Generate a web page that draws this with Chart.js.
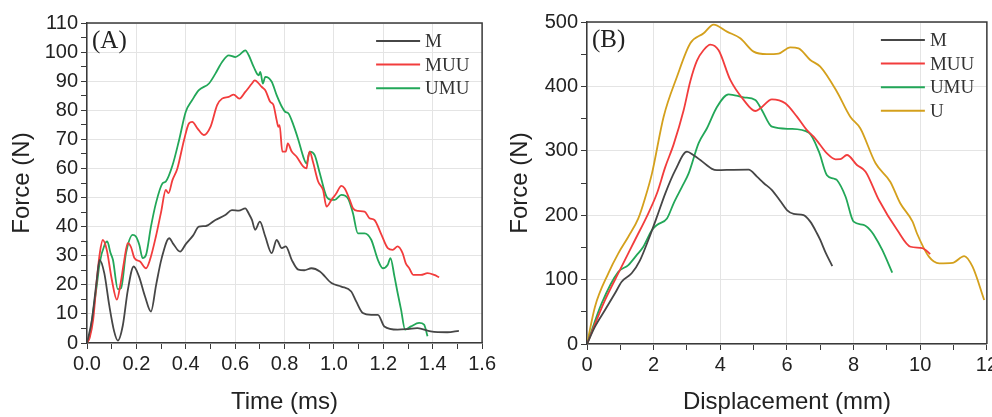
<!DOCTYPE html>
<html>
<head>
<meta charset="utf-8">
<script src="https://cdn.jsdelivr.net/npm/chart.js@4.4.1/dist/chart.umd.min.js"></script>
<style>
  html, body { margin: 0; padding: 0; background: #fff; overflow: hidden; }
  #wrap { position: relative; width: 992px; height: 417px; overflow: hidden; }
  canvas { position: absolute; top: 0; }
  #chartA { left: 0; }
  #chartB { left: 500px; }
</style>
</head>
<body>
<div id="wrap">
  <canvas id="chartA" width="499" height="417"></canvas>
  <canvas id="chartB" width="501" height="417"></canvas>
</div>
<script>
// === PANEL A DATA (time in ms, force in N) ===
const timeM_A = [0, 0.02, 0.04, 0.051, 0.07, 0.09, 0.11, 0.125, 0.145, 0.165, 0.189, 0.21, 0.235, 0.259, 0.28, 0.302, 0.333, 0.35, 0.377, 0.40, 0.43, 0.453, 0.48, 0.52, 0.56, 0.587, 0.615, 0.641, 0.655, 0.668, 0.681, 0.70, 0.722, 0.748, 0.768, 0.789, 0.805, 0.829, 0.856, 0.88, 0.909, 0.943, 0.99, 1.03, 1.07, 1.09, 1.117, 1.151, 1.178, 1.204, 1.258, 1.30, 1.338, 1.392, 1.459, 1.506];
const forceM_A = [0, 8, 22, 28.6, 24, 13, 4, 0.8, 6, 18, 26.3, 23, 16, 10.8, 20, 29, 36, 34, 31.4, 34, 37, 40, 40.2, 42.3, 44, 45.7, 45.5, 46.3, 44.5, 42.3, 38.9, 41.7, 36.6, 30.9, 35.4, 32.6, 33.2, 28.6, 25.2, 25.0, 25.7, 24.6, 20.6, 19.4, 17.7, 14.3, 10.3, 9.7, 9.7, 5.7, 4.6, 4.8, 5.1, 4.0, 3.7, 4.2];

const timeMUU_A = [0, 0.011, 0.025, 0.04, 0.052, 0.064, 0.08, 0.1, 0.121, 0.135, 0.15, 0.165, 0.178, 0.192, 0.215, 0.239, 0.255, 0.279, 0.3, 0.319, 0.33, 0.346, 0.366, 0.393, 0.413, 0.426, 0.447, 0.473, 0.5, 0.527, 0.547, 0.574, 0.594, 0.617, 0.641, 0.668, 0.679, 0.708, 0.722, 0.742, 0.755, 0.768, 0.775, 0.78, 0.791, 0.805, 0.813, 0.829, 0.849, 0.876, 0.889, 0.896, 0.902, 0.915, 0.936, 0.956, 0.97, 0.99, 1.01, 1.03, 1.043, 1.064, 1.077, 1.097, 1.124, 1.144, 1.164, 1.19, 1.218, 1.238, 1.258, 1.278, 1.291, 1.305, 1.322, 1.352, 1.379, 1.406, 1.426];
const forceMUU_A = [0, 1.8, 8, 22, 31, 35.4, 32, 22, 14.9, 20, 28, 34.3, 33, 29.2, 28, 25.7, 28.6, 36.6, 45, 52.6, 51.5, 56, 60, 69.8, 75.5, 76, 73.8, 71.5, 74.3, 81.8, 84, 84.6, 85.4, 84, 86.3, 89.2, 90.3, 88, 86.9, 82.9, 81.8, 76.6, 74.3, 74.9, 65.8, 65.8, 68.6, 65.8, 64, 60.6, 60, 64, 65.8, 62.3, 55.5, 52.6, 46.9, 49.2, 51.5, 54, 53.2, 49.2, 46.3, 45.4, 45.2, 42.9, 42.3, 37.7, 32.6, 32, 33.2, 30.9, 27.4, 25.7, 23.4, 23.4, 24, 23.4, 22.6];

const timeUMU_A = [0, 0.012, 0.024, 0.04, 0.051, 0.071, 0.082, 0.095, 0.105, 0.125, 0.138, 0.158, 0.185, 0.198, 0.212, 0.225, 0.239, 0.259, 0.279, 0.306, 0.319, 0.346, 0.373, 0.40, 0.426, 0.453, 0.494, 0.52, 0.547, 0.574, 0.601, 0.621, 0.641, 0.655, 0.675, 0.695, 0.702, 0.712, 0.722, 0.748, 0.768, 0.789, 0.802, 0.816, 0.836, 0.856, 0.876, 0.889, 0.902, 0.922, 0.943, 0.97, 0.99, 1.003, 1.03, 1.057, 1.077, 1.097, 1.124, 1.151, 1.178, 1.198, 1.218, 1.229, 1.245, 1.258, 1.272, 1.288, 1.312, 1.345, 1.365, 1.379];
const forceUMU_A = [0, 3, 10.3, 20, 27.4, 33.7, 34.9, 31, 28.6, 18.5, 18.9, 30.9, 37.2, 36.6, 33.7, 29.2, 30.3, 40, 48, 54.9, 55.5, 61, 69.8, 79.5, 83.5, 86.9, 89.2, 92.6, 96.6, 98.9, 98.3, 99.3, 100.6, 98.9, 94.9, 92, 93.2, 89.2, 91.5, 89.8, 85.2, 81.2, 79.5, 78.9, 74.9, 69.8, 64, 61.7, 65.8, 64.6, 58.3, 50.3, 49.2, 49.2, 50.9, 49.7, 44.6, 37.7, 37.7, 35.5, 28.6, 25.7, 26.9, 29.2, 22.9, 17.2, 11.4, 4.6, 5.7, 6.9, 6.3, 2.3];

// === PANEL B DATA (displacement in mm, force in N) ===
const dispM_B = [0, 0.24, 0.54, 0.84, 1.04, 1.34, 1.59, 1.84, 2.1, 2.35, 2.65, 3.0, 3.2, 3.4, 3.75, 3.9, 4.4, 4.85, 5.1, 5.3, 5.55, 5.8, 6.0, 6.2, 6.5, 6.7, 6.9, 7.0, 7.15, 7.36];
const forceM_B = [0, 27, 52.8, 78.7, 96.7, 109.8, 130, 161.5, 197.7, 234, 270, 298.6, 293, 285.7, 272, 270, 270.5, 270.7, 259.8, 250, 239, 222, 208, 202, 200, 190, 172, 161.5, 143, 121];

const dispMUU_B = [0, 0.54, 0.99, 1.44, 1.84, 2.1, 2.35, 2.6, 2.9, 3.1, 3.3, 3.5, 3.7, 3.95, 4.3, 4.7, 5.05, 5.2, 5.55, 5.95, 6.3, 6.6, 6.8, 7.0, 7.2, 7.46, 7.6, 7.8, 8.1, 8.36, 8.76, 9.31, 9.71, 10.06, 10.3];
const forceMUU_B = [0, 68, 115, 161.5, 203, 234, 275, 310, 363, 408, 440, 456.5, 465, 456, 410, 379, 361.8, 366, 380, 373.8, 353, 332, 322, 309, 296, 286.8, 287, 293.5, 278, 267.6, 223.6, 177, 151, 149, 139.7];

const dispUMU_B = [0, 0.44, 0.94, 1.24, 1.49, 1.69, 1.95, 2.1, 2.4, 2.6, 2.85, 3.05, 3.35, 3.6, 3.9, 4.25, 4.7, 5.05, 5.25, 5.55, 6.1, 6.66, 6.96, 7.2, 7.4, 7.5, 7.76, 8.0, 8.3, 8.5, 8.6, 8.86, 9.16];
const forceUMU_B = [0, 63, 112, 122.6, 138, 151, 177, 184.8, 195, 218.5, 244, 265, 312, 335, 368, 387.7, 383, 379, 363, 337.4, 334, 328, 298.6, 262, 257, 254.6, 228.7, 190, 185, 177, 170, 146, 110.7];

const dispU_B = [0, 0.24, 0.64, 0.94, 1.24, 1.54, 1.74, 1.95, 2.3, 2.7, 3.1, 3.5, 3.8, 4.2, 4.6, 5.0, 5.4, 5.75, 6.1, 6.35, 6.7, 7.0, 7.5, 7.9, 8.2, 8.66, 9.1, 9.4, 9.77, 9.9, 10.26, 10.57, 10.97, 11.32, 11.57, 11.92];
const forceU_B = [0, 58, 109.8, 140.8, 166.6, 195, 226, 265, 353, 415, 467, 482.5, 496, 485, 474.7, 454, 450, 451, 460.7, 459, 441, 430.6, 391.8, 353, 335, 280.6, 252, 218.5, 190, 172, 135.6, 125.3, 126, 136.6, 120, 68.3];

// series names + colours
const seriesNames = ["M", "MUU", "UMU", "U"];
const seriesColors = ["#464646", "#f23c3c", "#22a758", "#d4a01c"];

const AXIS = "#3a3a3a";
const GRID = "#e4e4e4";
const SANS = "'Liberation Sans', Arial, sans-serif";
const SERIF = "'Liberation Serif', 'Times New Roman', serif";

function pts(xs, ys) {
    return xs.map((x, i) => ({ x: x, y: ys[i] }));
}

function line(i, xs, ys) {
    return {
        label: seriesNames[i],
        data: pts(xs, ys),
        borderColor: seriesColors[i],
        borderWidth: 1.8,
        pointRadius: 0,
        cubicInterpolationMode: "monotone",
        fill: false
    };
}

// frame, panel letter and legend drawn inside the plot box
const decor = {
    id: "decor",
    afterDraw(chart, args, opts) {
        const { ctx, chartArea: a } = chart;
        ctx.save();
        ctx.strokeStyle = AXIS;
        ctx.lineWidth = 1.5;
        ctx.beginPath();
        ctx.moveTo(a.left, a.top);
        ctx.lineTo(a.right, a.top);
        ctx.lineTo(a.right, a.bottom);
        ctx.stroke();

        ctx.fillStyle = "#222";
        ctx.font = "25px " + SERIF;
        ctx.textBaseline = "middle";
        ctx.textAlign = "left";
        ctx.fillText(opts.label, a.left + 5, a.top + 18);

        ctx.font = "19px " + SERIF;
        chart.data.datasets.forEach((ds, i) => {
            const y = a.top + 18 + i * 23.6;
            ctx.strokeStyle = ds.borderColor;
            ctx.lineWidth = 2;
            ctx.beginPath();
            ctx.moveTo(a.right - 106, y);
            ctx.lineTo(a.right - 62, y);
            ctx.stroke();
            ctx.fillStyle = "#333";
            ctx.fillText(ds.label, a.right - 57, y + 1);
        });
        ctx.restore();
    }
};

function axis(title, min, max, step, isMajor, fmt, fitFn, titlePad) {
    return {
        type: "linear",
        min: min,
        max: max,
        border: { display: true, color: AXIS, width: 1.5 },
        grid: {
            color: c => (c.tick && isMajor(c.tick.value) ? GRID : "rgba(0,0,0,0)"),
            lineWidth: 1,
            tickColor: AXIS,
            tickLength: 6,
            drawTicks: true
        },
        ticks: {
            stepSize: step,
            autoSkip: false,
            maxRotation: 0,
            maxTicksLimit: 500,
            color: "#222",
            padding: 3,
            font: { family: SANS, size: 20 },
            callback: v => (isMajor(v) ? fmt(v) : "")
        },
        title: {
            display: true,
            text: title,
            color: "#222",
            font: { family: SANS, size: 24 },
            padding: titlePad
        },
        afterFit: fitFn
    };
}

function makeChart(id, datasets, xAxis, yAxis, label, pad) {
    return new Chart(document.getElementById(id), {
        type: "line",
        data: { datasets: datasets },
        options: {
            responsive: false,
            animation: false,
            devicePixelRatio: 1,
            layout: { padding: pad },
            scales: { x: xAxis, y: yAxis },
            plugins: {
                legend: { display: false },
                tooltip: { enabled: false },
                decor: { label: label }
            }
        },
        plugins: [decor]
    });
}

// === CHART A ===
makeChart("chartA",
    [line(0, timeM_A, forceM_A), line(1, timeMUU_A, forceMUU_A), line(2, timeUMU_A, forceUMU_A)],
    axis("Time (ms)", 0, 1.6, 0.1,
        v => Math.round(v * 10) % 2 === 0, v => v.toFixed(1),
        s => { s.height = 74; }, { top: 4, bottom: 0 }),
    axis("Force (N)", 0, 110, 5,
        v => Math.round(v) % 10 === 0, v => String(Math.round(v)),
        s => { s.width = 87; }, { top: 8, bottom: 4 }),
    "(A)", { left: 0, right: 14, top: 23, bottom: 0 });

// === CHART B ===
makeChart("chartB",
    [line(0, dispM_B, forceM_B), line(1, dispMUU_B, forceMUU_B), line(2, dispUMU_B, forceUMU_B), line(3, dispU_B, forceU_B)],
    axis("Displacement (mm)", 0, 12, 1,
        v => Math.round(v) % 2 === 0, v => String(Math.round(v)),
        s => { s.height = 73; }, { top: 4, bottom: 0 }),
    axis("Force (N)", 0, 500, 50,
        v => Math.round(v) % 100 === 0, v => String(Math.round(v)),
        s => { s.width = 87; }, { top: 6, bottom: 4 }),
    "(B)", { left: 0, right: 14, top: 22, bottom: 0 });
</script>
</body>
</html>
